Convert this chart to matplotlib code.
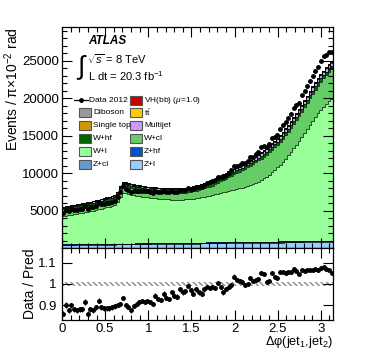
import numpy as np
import matplotlib
matplotlib.use("Agg")
import matplotlib.pyplot as plt
from matplotlib.patches import Rectangle

plt.rcParams['font.family'] = ['Liberation Sans', 'DejaVu Sans']
plt.rcParams['mathtext.fontset'] = 'custom'
plt.rcParams['mathtext.rm'] = 'Liberation Sans'
plt.rcParams['mathtext.it'] = 'Liberation Sans:italic'
plt.rcParams['mathtext.bf'] = 'Liberation Sans:bold'

# ---------------- data (100 bins of pi/100 in delta-phi) ----------------
z_l = [385,389,394,398,402,407,411,415,419,424, 428,432,437,441,445,450,454,458,462,467,
       471,475,480,484,488,493,497,501,505,510, 514,518,523,527,531,536,540,544,548,553,
       557,561,566,570,574,579,583,587,591,596, 600,604,609,613,617,622,626,630,634,639,
       643,647,652,656,660,665,669,673,677,682, 686,690,695,699,703,708,712,716,720,725,
       729,733,738,742,746,751,755,759,763,768, 772,776,781,785,789,794,798,802,806,811]
z_cl = [60,60,61,61,62,62,63,63,64,64, 65,65,66,66,67,67,68,68,69,69,
        70,70,71,71,72,72,73,73,74,74, 75,75,76,76,77,77,78,78,79,79,
        80,80,81,81,82,82,83,83,84,84, 85,85,86,86,87,87,88,88,89,89,
        90,90,91,91,92,92,93,93,94,94, 95,95,96,96,97,97,98,98,99,99,
        100,100,101,101,102,102,103,103,104,104, 105,105,106,106,107,107,108,108,109,109]
z_hf = [25,25,25,26,26,26,26,26,27,27, 27,27,27,28,28,28,28,28,29,29,
        29,29,29,30,30,30,30,30,31,31, 31,31,31,32,32,32,32,32,33,33,
        33,33,33,34,34,34,34,34,35,35, 35,35,35,36,36,36,36,36,37,37,
        37,37,37,38,38,38,38,38,39,39, 39,39,39,40,40,40,40,40,41,41,
        41,41,41,42,42,42,42,42,43,43, 43,43,43,44,44,44,44,44,45,45]
w_l = [3780,3835,3890,3955,4010,4075,4130,4195,4250,4315, 4380,4455,4530,4615,4700,4785,4870,4955,5040,5135,
       5530,6225,6770,6715,6610,6525,6450,6375,6310,6245, 6180,6125,6070,6025,5980,5935,5900,5865,5840,5815,
       5790,5775,5770,5765,5770,5785,5810,5845,5890,5935, 5980,6035,6100,6165,6240,6315,6400,6485,6570,6665,
       6760,6845,6930,7015,7100,7185,7270,7365,7470,7585, 7710,7855,8020,8215,8440,8685,8950,9245,9560,9905,
       10270,10655,11060,11485,11930,12395,12880,13385,13910,14445, 14980,15515,16040,16545,17020,17465,17880,18265,18620,18955]
w_cl = [907,905,903,901,899,897,896,889,887,885, 878,881,879,877,880,878,882,880,883,886,
        899,922,945,938,931,924,918,911,904,897, 890,888,886,884,882,880,879,877,875,873,
        871,879,887,900,913,926,940,953,966,1009, 1052,1095,1138,1181,1224,1267,1361,1454,1547,1640,
        1733,1826,1919,2012,2105,2198,2292,2385,2478,2571, 2664,2757,2850,2883,2916,2949,2973,2991,3009,3027,
        3045,3078,3111,3144,3167,3210,3254,3297,3340,3408, 3476,3544,3612,3665,3718,3781,3835,3878,3911,3944]
w_hf = [180,183,185,188,191,194,196,199,202,204, 207,210,212,215,218,221,223,226,229,231,
        234,237,239,242,245,248,250,253,256,258, 261,264,266,269,272,275,277,280,283,285,
        288,291,293,296,299,302,304,307,310,312, 315,318,320,323,326,329,331,334,337,339,
        342,345,347,350,353,356,358,361,364,366, 369,372,374,377,380,383,385,388,391,393,
        396,399,401,404,407,410,412,415,418,420, 423,426,428,431,434,437,439,442,445,447]
multijet = [100,104,107,111,114,118,121,125,128,132, 135,139,142,146,149,153,156,160,163,167,
            170,174,177,181,184,188,191,195,198,202, 205,209,212,216,219,223,226,230,233,237,
            240,244,247,251,254,258,261,265,268,272, 275,279,282,286,289,293,296,300,303,307,
            310,314,317,321,324,328,331,335,338,342, 345,349,352,356,359,363,366,370,373,377,
            380,384,387,391,394,398,401,405,408,412, 415,419,422,426,429,433,436,440,443,447]
single_top = [20,20,20,21,21,21,21,21,22,22, 22,22,22,23,23,23,23,23,24,24,
              24,24,24,25,25,25,25,25,26,26, 26,26,26,27,27,27,27,27,28,28,
              28,28,28,29,29,29,29,29,30,30, 30,30,30,31,31,31,31,31,32,32,
              32,32,32,33,33,33,33,33,34,34, 34,34,34,35,35,35,35,35,36,36,
              36,36,36,37,37,37,37,37,38,38, 38,38,38,39,39,39,39,39,40,40]
ttbar = [30,30,31,31,31,32,32,32,32,33, 33,33,34,34,34,35,35,35,35,36,
         36,36,37,37,37,38,38,38,38,39, 39,39,40,40,40,41,41,41,41,42,
         42,42,43,43,43,44,44,44,44,45, 45,45,46,46,46,47,47,47,47,48,
         48,48,49,49,49,50,50,50,50,51, 51,51,52,52,52,53,53,53,53,54,
         54,54,55,55,55,56,56,56,56,57, 57,57,58,58,58,59,59,59,59,60]
diboson = [20,20,20,21,21,21,21,21,22,22, 22,22,22,23,23,23,23,23,24,24,
           24,24,24,25,25,25,25,25,26,26, 26,26,26,27,27,27,27,27,28,28,
           28,28,28,29,29,29,29,29,30,30, 30,30,30,31,31,31,31,31,32,32,
           32,32,32,33,33,33,33,33,34,34, 34,34,34,35,35,35,35,35,36,36,
           36,36,36,37,37,37,37,37,38,38, 38,38,38,39,39,39,39,39,40,40]
vh = [2,2,2,2,2,2,2,2,2,2, 2,2,2,2,2,2,2,2,2,2, 3,3,3,3,3,3,3,3,3,3, 3,3,3,3,3,3,3,3,3,3,
      3,3,3,3,3,3,3,3,3,3, 3,3,3,3,3,3,3,3,3,3, 3,3,3,3,3,3,3,3,3,3, 4,4,4,4,4,4,4,4,4,4,
      4,4,4,4,4,4,4,4,4,4, 4,4,4,4,4,4,4,4,4,4]
# data / prediction
ratio = [0.86,0.90,0.875,0.90,0.88,0.875,0.88,0.88,0.915,0.86, 0.88,0.875,0.89,0.92,0.89,0.885,0.885,0.885,0.89,0.895,
         0.90,0.905,0.935,0.90,0.89,0.875,0.895,0.905,0.915,0.92, 0.915,0.92,0.915,0.905,0.945,0.93,0.925,0.955,0.935,0.93,
         0.96,0.945,0.94,0.975,0.96,0.965,0.99,0.97,0.955,0.975, 0.96,0.955,0.975,0.985,0.98,0.985,0.98,1.005,0.985,0.96,
         0.975,0.985,0.995,1.035,1.02,1.015,1.01,0.995,1.00,1.03, 1.015,1.02,1.025,1.05,1.045,1.01,1.015,1.05,1.035,1.03,
         1.055,1.055,1.05,1.055,1.055,1.07,1.06,1.045,1.065,1.06, 1.065,1.065,1.065,1.07,1.065,1.075,1.08,1.07,1.065,1.05]
mc_stat_rel = 0.01

VH_LABEL = "VH(bb) ($\\mu$=1.0)"
TT_LABEL = "t$\\bar{\\rm t}$"
samples = [  # bottom -> top
    ("Z+l", z_l, "#99ccff"),
    ("Z+cl", z_cl, "#6699cc"),
    ("Z+hf", z_hf, "#0055cc"),
    ("W+l", w_l, "#99ff99"),
    ("W+cl", w_cl, "#66cc66"),
    ("W+hf", w_hf, "#006600"),
    ("Multijet", multijet, "#cc99ff"),
    ("Single top", single_top, "#cc9900"),
    (TT_LABEL, ttbar, "#ffcc00"),
    ("Diboson", diboson, "#999999"),
    (VH_LABEL, vh, "#cc0000"),
]

nb = len(ratio)
edges = np.linspace(0, np.pi, nb + 1)
centers = 0.5 * (edges[1:] + edges[:-1])
half = 0.5 * (edges[1] - edges[0])

W, H = 374, 355
fig = plt.figure(figsize=(W / 100, H / 100), dpi=100)
def fr(x0, y0, x1, y1):
    return [x0 / W, 1 - y1 / H, (x1 - x0) / W, (y1 - y0) / H]
ax = fig.add_axes(fr(62, 27, 333, 248))
axr = fig.add_axes(fr(62, 248, 333, 320), sharex=ax)

base = np.zeros(nb)
colors = {}
for name, vals, col in samples:
    v = np.asarray(vals, float)
    ax.stairs(base + v, edges, baseline=base, fill=True, color=col, lw=0)
    base = base + v
    colors[name] = col
base = np.zeros(nb)
for name, vals, col in samples:
    base = base + np.asarray(vals, float)
    ax.stairs(base, edges, color='black', lw=0.5, baseline=None)
pred = base
data = np.asarray(ratio) * pred
derr = np.sqrt(data)
ax.errorbar(centers, data, yerr=derr, xerr=half, fmt='o', color='black', ms=2.5,
            elinewidth=0.8, capsize=0, zorder=5)

ax.set_xlim(0, np.pi)
ax.set_ylim(0, 29500)
ax.set_yticks([5000, 10000, 15000, 20000, 25000])
ax.set_yticks(np.arange(0, 29501, 1000), minor=True)
ax.tick_params(labelbottom=False)
ax.set_ylabel("Events / π×10$^{-2}$ rad", fontsize=10, loc='top')
ax.yaxis.set_label_coords(-0.152, 1.0)

axr.fill_between(edges, 1 - mc_stat_rel, 1 + mc_stat_rel, facecolor='none',
                 edgecolor='#888888', hatch='\\\\\\\\\\\\', lw=0)
rerr = derr / pred
axr.errorbar(centers, ratio, yerr=rerr, xerr=half, fmt='o', color='black', ms=2.5,
             elinewidth=0.8, capsize=0, zorder=5)
axr.set_ylim(0.83, 1.17)
axr.set_yticks([0.9, 1.0, 1.1])
axr.set_yticklabels(["0.9", "1", "1.1"])
axr.set_xticks([0, 0.5, 1, 1.5, 2, 2.5, 3])
axr.set_xticklabels(["0", "0.5", "1", "1.5", "2", "2.5", "3"])
axr.set_xticks(np.arange(0, 3.15, 0.1), minor=True)
axr.set_ylabel("Data / Pred", fontsize=10)
axr.yaxis.set_label_coords(-0.092, 0.5)
axr.set_xlabel("Δφ(jet$_1$,jet$_2$)", fontsize=9.2, loc='right', va='top')
axr.xaxis.set_label_coords(1.0, -0.19)

for a in (ax, axr):
    a.tick_params(which='both', direction='in', top=True, right=True, labelsize=9.5, pad=2)
    a.tick_params(which='major', length=7, width=0.8)
    a.tick_params(which='minor', length=3.5, width=0.8)
    for s in a.spines.values():
        s.set_linewidth(0.9)
axr.tick_params(axis='y', pad=4)

def axf(px, py):
    return ((px - 62) / 271, (248 - py) / 221)
ax.text(*axf(88, 41), "ATLAS", fontsize=8.5, fontweight='bold', fontstyle='italic',
        transform=ax.transAxes, va='center', ha='left')
ax.text(*axf(87, 59), "$\\sqrt{s}$ = 8 TeV", fontsize=8, transform=ax.transAxes,
        va='center', ha='left')
ax.text(*axf(76, 68), "$\\int$", fontsize=19, transform=ax.transAxes, va='center', ha='left')
ax.text(*axf(88, 76), "L dt = 20.3 fb$^{-1}$", fontsize=8, transform=ax.transAxes,
        va='center', ha='left')

leg_rows = [
    [("Data 2012", None), (VH_LABEL, colors[VH_LABEL])],
    [("Diboson", colors["Diboson"]), (TT_LABEL, colors[TT_LABEL])],
    [("Single top", colors["Single top"]), ("Multijet", colors["Multijet"])],
    [("W+hf", colors["W+hf"]), ("W+cl", colors["W+cl"])],
    [("W+l", colors["W+l"]), ("Z+hf", colors["Z+hf"])],
    [("Z+cl", colors["Z+cl"]), ("Z+l", colors["Z+l"])],
]
colx = [79, 130]
for r, row in enumerate(leg_rows):
    py = 100 + 12.8 * r
    for c, (lab, col) in enumerate(row):
        x0 = colx[c]
        if col is None:
            xa, ya = axf(x0 - 5, py)
            xb, _ = axf(x0 + 9, py)
            ax.plot([xa, xb], [ya, ya], color='black', lw=0.9, transform=ax.transAxes)
            ax.plot([(xa + xb) / 2], [ya], 'o', color='black', ms=2.5, transform=ax.transAxes)
            tx, ty = axf(x0 + 10, py)
        else:
            xa, ya = axf(x0, py + 4.5)
            ax.add_patch(Rectangle((xa, ya), 12 / 271, 9 / 221, transform=ax.transAxes,
                                   facecolor=col, edgecolor='#555555', lw=0.8, zorder=6))
            tx, ty = axf(x0 + 14, py)
        ax.text(tx, ty, lab, fontsize=6.0, fontweight='normal', transform=ax.transAxes,
                va='center', ha='left', zorder=7)

fig.savefig("out.png", dpi=100)
